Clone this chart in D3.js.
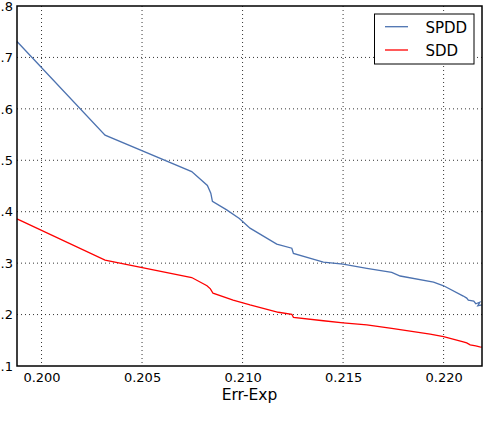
<!DOCTYPE html>
<html>
<head>
	<meta charset="utf-8" />
	<title>Err-Exp curves</title>
	<script src="https://d3js.org/d3.v7.min.js"></script>
	<style type="text/css">
		body { margin: 0; background: white; }
		svg { display: block; }
		text { font-family: "DejaVu Sans", sans-serif; fill: black; }
		.grid line { stroke: #000; stroke-width: 0.8; stroke-dasharray: 1,3; }
	</style>
</head>
<body>
	<script>
		// series
		const spddX = [0.19878, 0.20316, 0.20747, 0.20825, 0.20842, 0.2085, 0.20921, 0.20984, 0.21037,
			0.2117, 0.21245, 0.21253, 0.21402, 0.215, 0.21618, 0.21742, 0.21784, 0.2195, 0.22,
			0.22098, 0.22115, 0.22123, 0.2215, 0.2216, 0.2218, 0.2217, 0.2219];
		const spddY = [0.731, 0.549, 0.478, 0.451, 0.436, 0.420, 0.4035, 0.387, 0.368,
			0.337, 0.329, 0.319, 0.302, 0.298, 0.290, 0.282, 0.275, 0.263, 0.256,
			0.236, 0.232, 0.228, 0.226, 0.221, 0.224, 0.217, 0.219];
		const sddX = [0.19878, 0.20316, 0.20747, 0.20823, 0.2084, 0.20853, 0.20953, 0.21037,
			0.21178, 0.21245, 0.21253, 0.21402, 0.215, 0.21618, 0.21742, 0.21933, 0.22,
			0.22098, 0.22115, 0.22132, 0.2216, 0.2218, 0.2219];
		const sddY = [0.386, 0.306, 0.272, 0.256, 0.250, 0.2415, 0.228, 0.2187,
			0.2045, 0.2006, 0.1947, 0.188, 0.184, 0.180, 0.173, 0.162, 0.157,
			0.147, 0.145, 0.141, 0.139, 0.137, 0.1365];
		const seriesNames = ["SPDD", "SDD"];
		const seriesColors = ["#4c72b0", "#ff0000"];
		const xTicks = [0.200, 0.205, 0.210, 0.215, 0.220];
		const yTicks = [0.1, 0.2, 0.3, 0.4, 0.5, 0.6, 0.7, 0.8];
		const xLabel = "Err-Exp";

		const width = 500;
		const height = 438;
		const plotLeft = 17, plotRight = 482, plotTop = 6, plotBottom = 366;

		const svg = d3.select("body")
			.append("svg")
			.attr("width", width)
			.attr("height", height);

		const x = d3.scaleLinear()
			.domain([0.19878, 0.22191])
			.range([plotLeft, plotRight]);
		const y = d3.scaleLinear()
			.domain([0.1, 0.8])
			.range([plotBottom, plotTop]);

		// grid
		const grid = svg.append("g").attr("class", "grid");
		grid.selectAll(".gx")
			.data(xTicks)
			.enter()
			.append("line")
			.attr("x1", d => x(d)).attr("x2", d => x(d))
			.attr("y1", plotTop).attr("y2", plotBottom);
		grid.selectAll(".gy")
			.data(yTicks.slice(1, -1))
			.enter()
			.append("line")
			.attr("x1", plotLeft).attr("x2", plotRight)
			.attr("y1", d => y(d)).attr("y2", d => y(d));

		// curves
		const line = d3.line()
			.x(d => x(d[0]))
			.y(d => y(d[1]));
		const series = [
			d3.zip(spddX, spddY),
			d3.zip(sddX, sddY)
		];
		svg.selectAll(".curve")
			.data(series)
			.enter()
			.append("path")
			.attr("class", "curve")
			.attr("d", line)
			.attr("fill", "none")
			.attr("stroke", (d, i) => seriesColors[i])
			.attr("stroke-width", 1.3);

		// axes: labels only, frame drawn below
		const xAxis = d3.axisBottom(x)
			.tickValues(xTicks)
			.tickFormat(d3.format(".3f"))
			.tickSize(0)
			.tickPadding(7);
		svg.append("g")
			.attr("transform", "translate(0," + plotBottom + ")")
			.call(xAxis)
			.call(g => g.select(".domain").remove())
			.selectAll("text")
			.attr("font-family", "DejaVu Sans")
			.attr("font-size", 13);

		// the picture is cropped, only ".8", ".7" ... show on the left
		const yAxis = d3.axisLeft(y)
			.tickValues(yTicks)
			.tickFormat(d => d3.format(".1f")(d).replace(/^0/, ""))
			.tickSize(0)
			.tickPadding(4);
		svg.append("g")
			.attr("transform", "translate(" + plotLeft + ",0)")
			.call(yAxis)
			.call(g => g.select(".domain").remove())
			.selectAll("text")
			.attr("font-family", "DejaVu Sans")
			.attr("font-size", 13);

		svg.append("rect")
			.attr("x", plotLeft).attr("y", plotTop)
			.attr("width", plotRight - plotLeft).attr("height", plotBottom - plotTop)
			.attr("fill", "none")
			.attr("stroke", "black")
			.attr("stroke-width", 1.5);

		svg.append("text")
			.attr("x", (plotLeft + plotRight) / 2)
			.attr("y", 400)
			.attr("text-anchor", "middle")
			.attr("font-size", 15.5)
			.text(xLabel);

		// legend
		const legend = svg.append("g");
		legend.append("rect")
			.attr("x", 374.5).attr("y", 14)
			.attr("width", 99.5).attr("height", 50)
			.attr("fill", "white")
			.attr("stroke", "black")
			.attr("stroke-width", 1);
		const rows = legend.selectAll(".row")
			.data(seriesNames)
			.enter()
			.append("g")
			.attr("transform", (d, i) => "translate(0," + (26.7 + i * 23.3) + ")");
		rows.append("line")
			.attr("x1", 385).attr("x2", 408)
			.attr("stroke", (d, i) => seriesColors[i])
			.attr("stroke-width", 1.3);
		rows.append("text")
			.attr("x", 425.5)
			.attr("y", 6)
			.attr("font-size", 15)
			.text(d => d);
	</script>
</body>
</html>
